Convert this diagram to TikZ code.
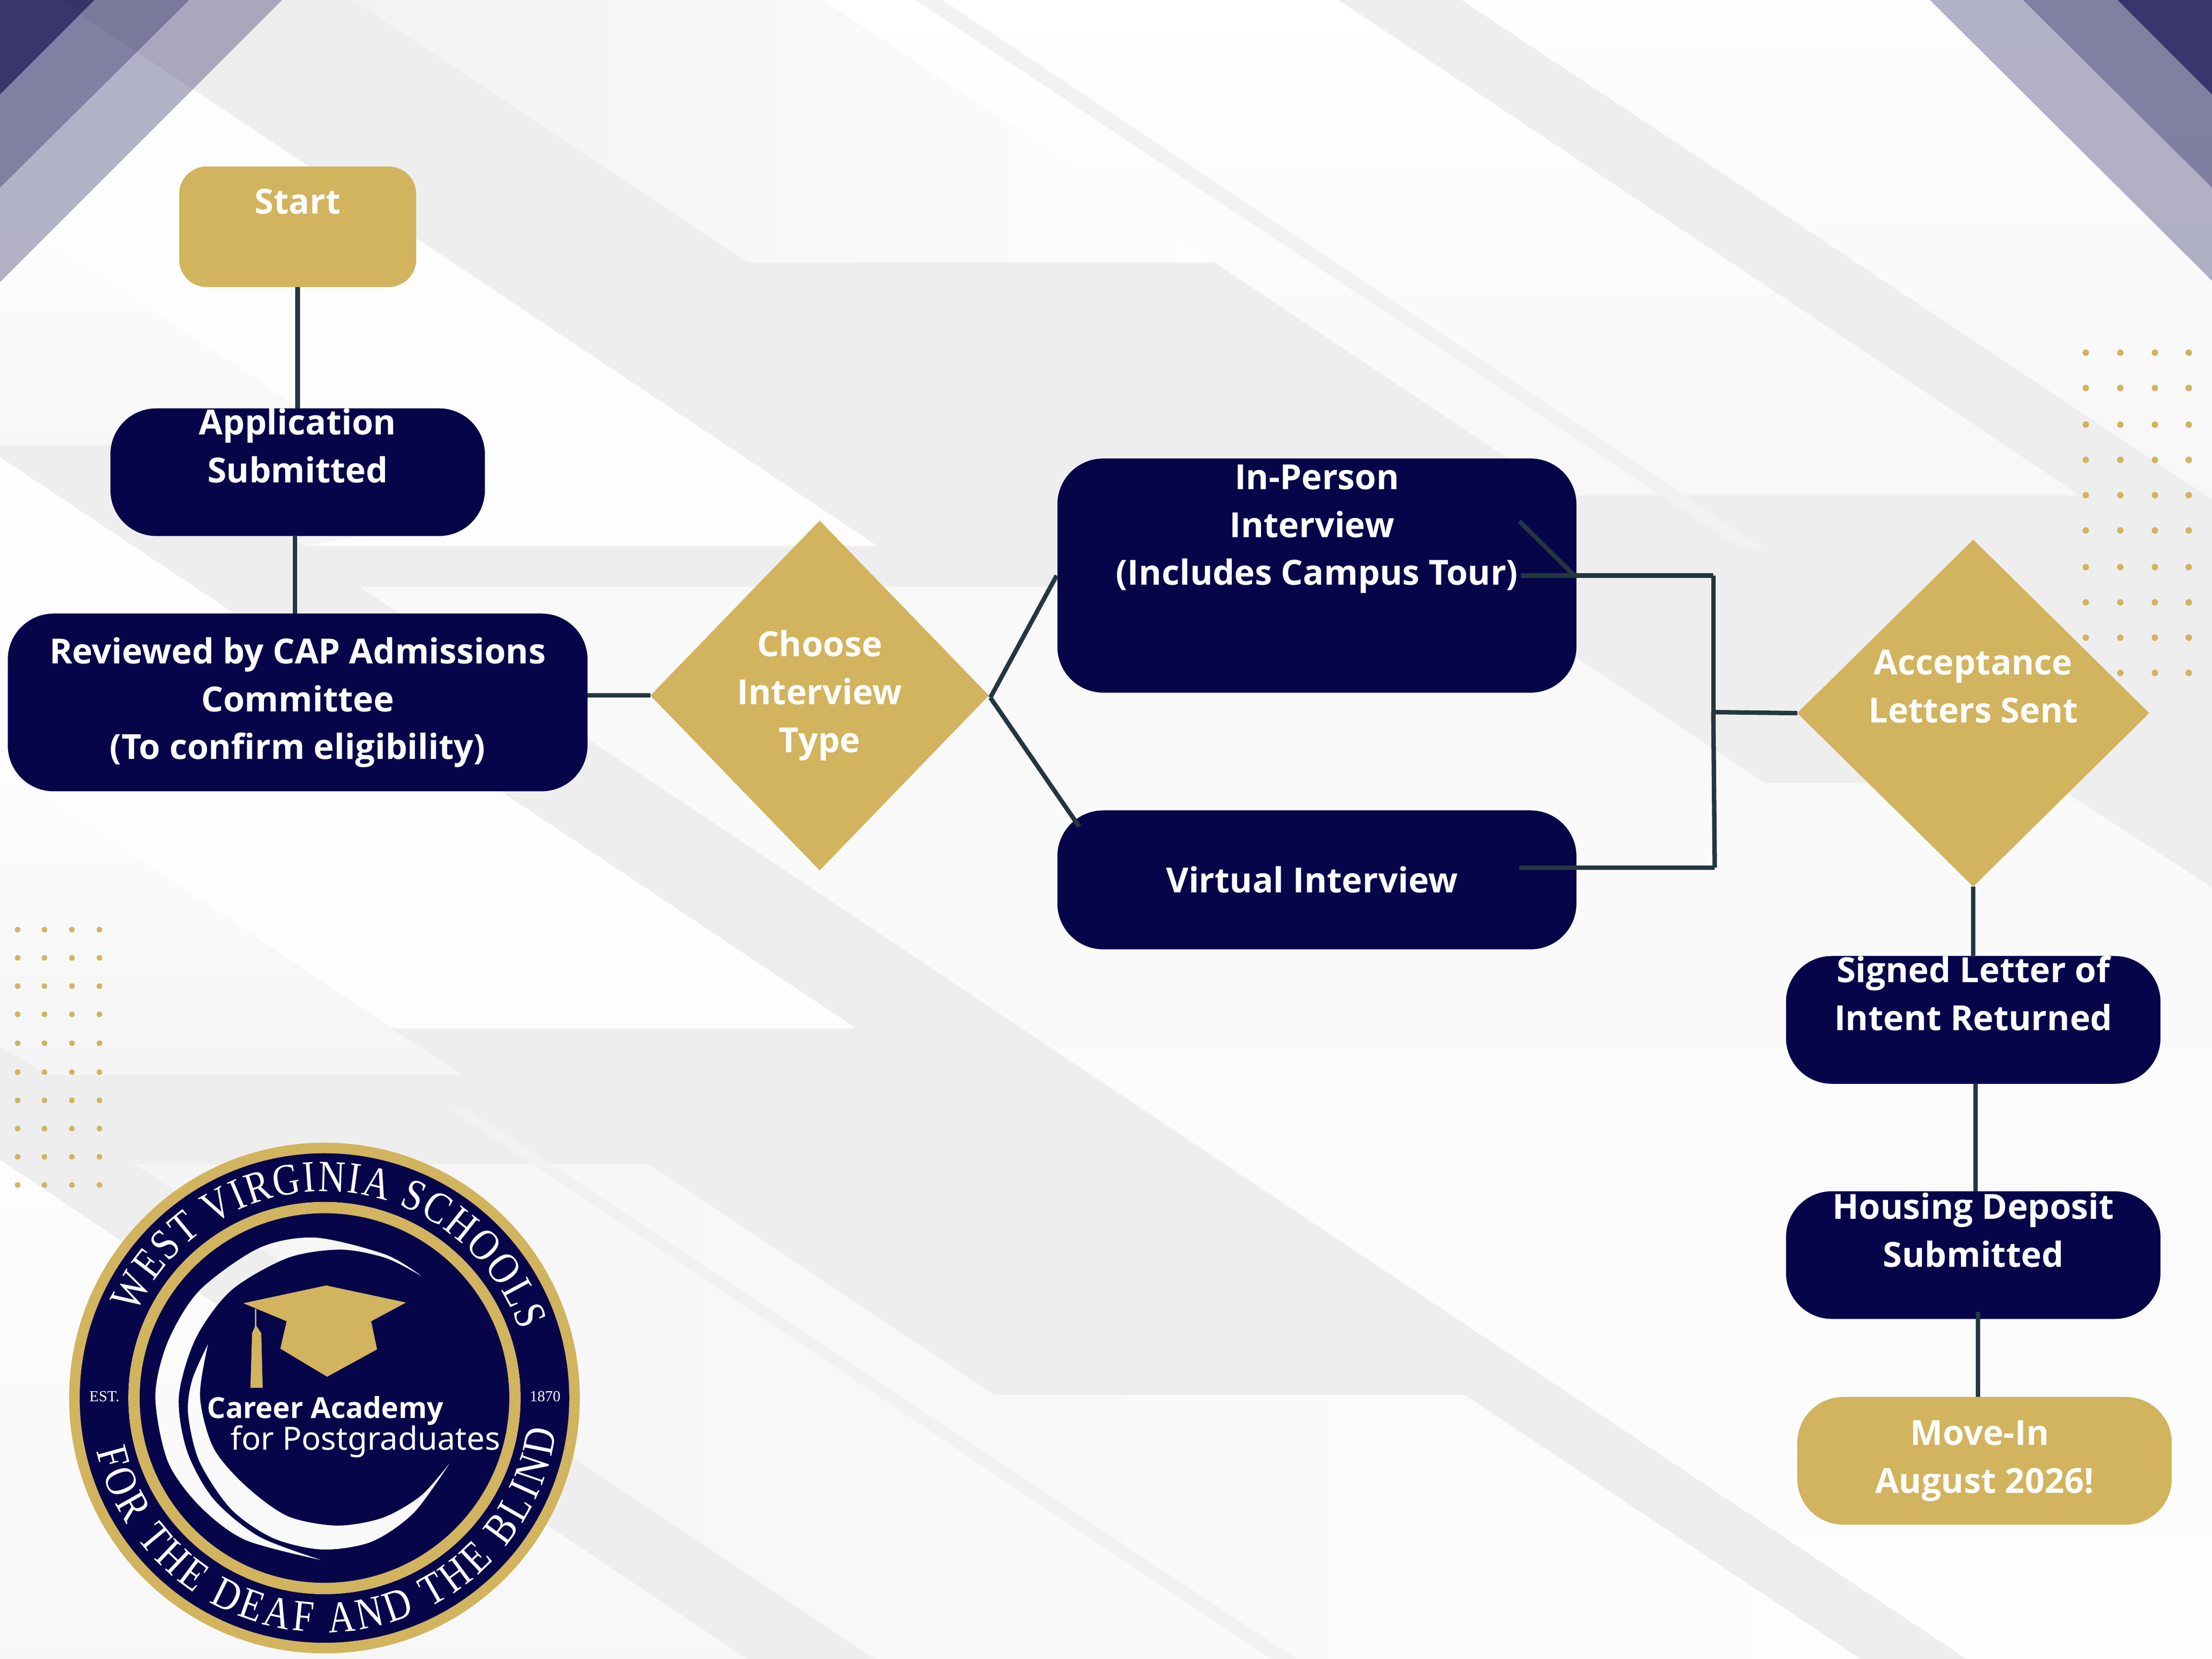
\documentclass[tikz,border=0pt]{standalone}
\usepackage{fontspec}
\setmainfont{Open Sans}
\newfontfamily\sealfont{Liberation Serif}
\newfontfamily\sealcurve[FakeStretch=0.84]{Liberation Serif}
\newfontfamily\sublinefont{Noto Sans}
\usetikzlibrary{shapes.geometric,decorations.text}

\definecolor{navyfill}{HTML}{07054A}
\definecolor{goldfill}{HTML}{D2B35E}
\definecolor{linkcol}{HTML}{24363F}
\definecolor{bandgrey}{HTML}{EEEEEE}
\definecolor{thinband}{HTML}{F2F2F2}
\definecolor{paper}{HTML}{FDFDFD}

\tikzset{
	boxtext/.style={text=white, font=\bfseries\fontsize{13.95}{19.3}\selectfont, align=center, inner sep=0pt, outer sep=0pt},
	navybox/.style={boxtext, fill=navyfill, rounded corners=0.65cm, minimum width=5.31cm, minimum height=1.81cm},
	goldbox/.style={boxtext, fill=goldfill, rounded corners=0.65cm, minimum width=5.31cm, minimum height=1.81cm},
	golddiamond/.style={boxtext, fill=goldfill, shape=diamond},
	link/.style={draw=linkcol, line width=1.8pt},
	corner/.style={fill=navyfill, opacity=#1},
	softband/.style={shading=axis, shading angle=#1},
	sealtext/.style={text=white, font=\sealfont\fontsize{6.2}{7}\selectfont, inner sep=0pt},
}

\begin{document}
\begin{tikzpicture}[x=0.02cm, y=-0.02cm, node distance=2cm]
	\useasboundingbox (0,0) rectangle (1568,1176);

	% Paper and soft light wedges
	\fill [paper] (0,0) rectangle (1568,1176);
	\path [softband=90, left color=white!95!black, right color=paper] (250,0) -- (530,186) -- (861,186) -- (584,0) -- cycle;
	\path [softband=0, top color=white, bottom color=white!97!black] (584,0) -- (949,0) -- (1474,351) -- (1108,351) -- cycle;
	\path [softband=0, top color=paper, bottom color=white!97!black] (1036,0) -- (1568,354) -- (1568,0) -- cycle;
	\path [softband=0, top color=paper, bottom color=white!96!black] (0,148) -- (330,368) -- (215,387) -- (108,316) -- (0,316) -- cycle;
	\path [softband=0, top color=paper, bottom color=white!96!black] (0,543) -- (328,762) -- (35,762) -- (0,742) -- cycle;
	\path [softband=0, top color=white!97.5!black, bottom color=paper] (1042,416) -- (1251,555) -- (1454,555) -- (1568,629) -- (1568,1176) -- (1394,1176) -- (255,416) -- cycle;
	\path [softband=90, left color=white!96!black, right color=paper] (95,825) -- (460,825) -- (705,989) -- (1039,989) -- (1319,1176) -- (620,1176) -- cycle;
	\path [softband=0, top color=paper, bottom color=white!97!black] (0,822) -- (530,1176) -- (0,1176) -- cycle;

	% Grey chevrons
	\fill [bandgrey] (42,0) -- (250,0) -- (530,186) -- (861,186) -- (1108,351) -- (1474,351) -- (949,0) -- (1036,0)
		-- (1568,354) -- (1568,629) -- (1454,555) -- (1251,555) -- (1042,416) -- (255,416) -- (1394,1176) -- (1319,1176)
		-- (1039,989) -- (705,989) -- (460,825) -- (95,825) -- (620,1176) -- (530,1176) -- (0,822) -- (0,742) -- (35,762)
		-- (328,762) -- (277,729) -- (607,729) -- (0,324) -- (0,316) -- (108,316) -- (215,387) -- (622,387) -- cycle;
	\fill [thinband] (668,0) -- (649,0) -- (1234,389) -- (1251,389) -- cycle;
	\fill [thinband] (333,787) -- (320,787) -- (901,1176) -- (919,1176) -- cycle;

	% Corner stripes
	\fill [corner=0.8] (0,0) -- (67,0) -- (0,67) -- cycle;
	\fill [corner=0.5] (67,0) -- (134,0) -- (0,133) -- (0,67) -- cycle;
	\fill [corner=0.3] (134,0) -- (200,0) -- (0,200) -- (0,133) -- cycle;
	\fill [corner=0.8] (1568,0) -- (1501,0) -- (1568,67) -- cycle;
	\fill [corner=0.5] (1501,0) -- (1434,0) -- (1568,133) -- (1568,67) -- cycle;
	\fill [corner=0.3] (1434,0) -- (1368,0) -- (1568,199) -- (1568,133) -- cycle;

	% Dots
	\foreach \dx in {1478.5,1503,1527.5,1551.5}
		\foreach \dy in {250,275,301,326,351,376,402,427,452,477}
			\fill [goldfill] (\dx,\dy) circle (2.3);
	\foreach \dx in {12.5,31.5,51,70.5}
		\foreach \dy in {659,679,699,719,739.5,760,780,800,820,840}
			\fill [goldfill] (\dx,\dy) circle (2);

	% Nodes
	\node [goldbox, minimum width=3.36cm, minimum height=1.71cm, rounded corners=0.39cm] (start) at (211,160.75) {Start\\[1.1pt]};
	\node [navybox]	(appl) [below of=start, node distance=3.48cm] {Application\\Submitted\\[2.3pt]};
	\node [navybox, minimum width=8.22cm, minimum height=2.52cm] (revw) [below of=appl, node distance=3.265cm] {\vspace*{1.1pt}Reviewed by CAP Admissions\\Committee\\(To confirm eligibility)};
	\node [golddiamond, minimum width=4.8cm, minimum height=4.96cm] (choose) at (581,493) {\vspace*{2.3pt}Choose\\Interview\\Type};
	\node [navybox, minimum width=7.36cm, minimum height=3.32cm] (inperson) at (933.5,408) {In-Person\\Interview\kern4pt\\(Includes Campus Tour)\\\mbox{}\\[2.3pt]};
	\node [navybox, minimum width=7.36cm, minimum height=1.97cm] (virtual) [below of=inperson, node distance=4.315cm] {Virtual Interview\kern4pt};
	\node [golddiamond, minimum width=4.99cm, minimum height=4.92cm] (accept) at (1398.75,505.5) {Acceptance\\Letters Sent\\[2.3pt]};
	\node [navybox]	(signed) [below of=accept, node distance=4.35cm] {Signed Letter of\\Intent Returned\\[2.3pt]};
	\node [navybox]	(housing) [below of=signed, node distance=3.335cm] {Housing Deposit\\Submitted\\[1.1pt]};
	\node [goldbox]	(movein) at (1406.75,1035.5) {\vspace*{2.3pt}Move-In\kern4pt\\August 2026!};

	% Free line ends
	\coordinate (applTail) at (209,380);
	\coordinate (fork) at (702,494.5);
	\coordinate (inSide) at (749,408);
	\coordinate (virtSide) at (765,586);
	\coordinate (inStub) at (1077,369.5);
	\coordinate (inKnee) at (1116,408);
	\coordinate (inIn) at (1078,408);
	\coordinate (topTurn) at (1214.5,408);
	\coordinate (midTurn) at (1214.5,504.8);
	\coordinate (lowTurn) at (1215.5,615);
	\coordinate (virtIn) at (1077,615);
	\coordinate (signedTail) at (1400.5,768);
	\coordinate (housingTail) at (1402,930);

	% Paths
	\path [link] (start) edge (appl);
	\path [link] (applTail) edge (applTail |- revw.north);
	\path [link] (revw.east |- choose.west) edge (choose.west);
	\path [link] (fork) edge (inSide);
	\path [link] (fork) edge (virtSide);
	\path [link] (inStub) edge (inKnee);
	\path [link] (inIn) edge (topTurn);
	\path [link] (topTurn) edge (midTurn);
	\path [link] (midTurn) edge (lowTurn);
	\path [link] (virtIn) edge (lowTurn);
	\path [link] (midTurn) edge (accept.west);
	\path [link] (accept) edge (signed);
	\path [link] (signedTail) edge (signedTail |- housing.north);
	\path [link] (housingTail) edge (housingTail |- movein.north);

	% Seal
	\fill [goldfill, even odd rule] (230,991) circle (181) (230,991) circle (173.5);
	\fill [navyfill, even odd rule] (230,991) circle (173.5) (230,991) circle (139);
	\fill [goldfill, even odd rule] (230,991) circle (139) (230,991) circle (131);
	\fill [navyfill, even odd rule] (230,991) circle (131)
		plot [smooth] coordinates {(299.8,905.2) (273.6,889.4) (223.7,877.3) (183.7,884.6) (141.3,914.8) (118.9,951.2) (110.1,989.9) (118.9,1035.9) (141.3,1067.4) (173.8,1091.6) (228.7,1106.1)}
		-- plot [smooth] coordinates {(228.7,1106.1) (183.7,1089.2) (151.3,1062.5) (132.6,1028.6) (126.8,989.9) (138.8,948.7) (163.8,914.8) (203.7,891.8) (241.1,885.8) (273.6,891.8) (299.8,905.2)} -- cycle
		plot [smooth] coordinates {(147.6,952.4) (136.3,977.8) (133.3,1002) (141.3,1035.9) (163.8,1069.8) (193.7,1090.4) (228.7,1098.4) (263.6,1092.8) (293.5,1072.2) (319.7,1035.9)}
		-- plot [smooth] coordinates {(319.7,1035.9) (298.5,1060.1) (271.1,1075.9) (238.6,1081.4) (203.7,1074.6) (173.8,1052.9) (151.3,1026.2) (141.8,989.9) (147.6,952.4)} -- cycle;
	\fill [goldfill] (172.5,923.8) -- (231.2,911.2) -- (287.8,923.3) -- (263.1,936.6) -- (267.3,956.5) -- (231.9,975.9) -- (198.7,956) -- (203.2,936.6) -- cycle;
	\draw [goldfill, line width=0.6pt] (181.2,928) -- (181.2,942);
	\fill [goldfill] (181.2,939) -- (185.2,945.1) -- (186.2,983.8) -- (177.5,983.8) -- (178.7,945.1) -- cycle;
	\node [text=white, font=\bfseries\fontsize{11.7}{14}\selectfont, inner sep=0pt] (careerline) at (230.7,1000) {Career Academy};
	\node [text=white, font=\sublinefont\fontsize{12.9}{14}\selectfont, inner sep=0pt] (postline) at (259,1022) {for Postgraduates};
	\node [sealtext] (estmark) at (74,990) {EST.};
	\node [sealtext] (yearmark) at (386.4,990) {1870};
	\begin{scope}[shift={(230,991)}, y=0.02cm]
		\path [decorate, decoration={text along path, text align={fit to path}, text color=white,
			text={|\sealcurve\fontsize{18}{20}\selectfont|WEST VIRGINIA SCHOOLS}}]
			(156:146.5) arc [start angle=156, end angle=19, radius=146.5];
		\path [decorate, decoration={text along path, text align={fit to path}, text color=white,
			text={|\sealcurve\fontsize{18}{20}\selectfont|FOR THE DEAF AND THE BLIND}}]
			(193:166) arc [start angle=193, end angle=352, radius=166];
	\end{scope}
\end{tikzpicture}
\end{document}
